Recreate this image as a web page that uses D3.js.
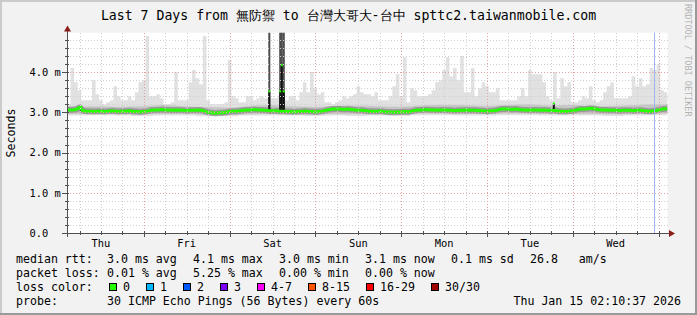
<!DOCTYPE html>
<html>
<head>
<meta charset="utf-8">
<script src="https://cdn.jsdelivr.net/npm/d3@7"></script>
<style>
  body { margin: 0; background: #f2f2f2; }
  text { font-family: "DejaVu Sans Mono", monospace; white-space: pre; }
</style>
</head>
<body>
<svg id="chart" width="697" height="315"></svg>
<script>
// hourly max rtt of the 30 pings (ms), from Thu 02:30 onwards
const smokeMax = [
  3.2, 4.1, 3.75, 3.55, 3.3, 3.3, 3.3, 3.8, 3.45, 3.3, 3.2, 3.25, 3.3, 3.65, 3.4, 3.3, 3.3, 3.4, 3.3, 3.5, 3.75,
  3.8, 4.9, 3.4, 3.4, 3.45, 3.35, 3.2, 3.2, 3.25, 4.0, 3.3, 3.3, 3.3, 3.75, 4.05, 3.85, 3.7, 4.9, 3.3, 3.2, 3.2,
  3.2, 3.2, 3.25, 4.3, 3.4, 3.35, 3.25, 3.25, 3.4, 3.4, 3.3, 3.35, 3.4, 3.35, 3.35, 3.35, 3.35, 3.4, 3.4, 3.3, 3.4,
  3.4, 3.3, 3.5, 3.75, 3.5, 4.0, 3.6, 3.45, 3.5, 3.25, 3.25, 3.2, 3.25, 3.3, 3.4, 3.35, 3.4, 3.45, 3.65, 3.5, 3.45,
  3.45, 3.4, 3.5, 3.3, 3.3, 3.3, 3.4, 3.65, 3.95, 3.4, 4.37, 3.25, 3.6, 3.55, 3.4, 3.4, 3.4, 3.45, 3.55, 3.75, 3.8,
  4.05, 4.37, 3.9, 4.1, 3.8, 4.4, 3.5, 3.5, 4.1, 3.4, 3.6, 3.75, 3.65, 3.5, 3.5, 3.6, 3.3, 3.3, 3.3, 3.3, 3.3,
  3.4, 3.6, 3.4, 4.05, 3.95, 3.95, 3.95, 3.75, 3.4, 3.3, 4.0, 3.35, 3.85, 3.65, 3.75, 3.25, 3.25, 3.3, 3.4, 3.35, 3.65,
  3.3, 3.25, 3.3, 3.5, 3.65, 3.75, 3.35, 3.35, 3.35, 3.35, 3.4, 3.9, 3.65, 3.85, 3.65, 3.7, 4.1, 4.05, 4.2, 3.55, 3.5
];

// hourly median rtt (ms)
const medianRtt = [
  3.06, 3.06, 3.07, 3.12, 3.04, 3.03, 3.03, 3.02, 3.03, 3.03, 3.02, 3.03, 3.04, 3.03, 3.02, 3.03, 3.03, 3.04, 3.02, 3.02, 3.01,
  3.02, 3.03, 3.05, 3.06, 3.06, 3.07, 3.06, 3.06, 3.05, 3.06, 3.05, 3.05, 3.04, 3.05, 3.05, 3.06, 3.05, 3.03, 3.00, 2.99, 2.98,
  2.99, 2.99, 3.00, 3.02, 3.03, 3.03, 3.04, 3.05, 3.06, 3.06, 3.07, 3.06, 3.06, 3.05, 3.04, 3.04, 3.04, 3.03, 3.03, 3.02, 3.02,
  3.01, 3.02, 3.02, 3.03, 3.02, 3.02, 3.01, 3.02, 3.03, 3.05, 3.07, 3.08, 3.08, 3.08, 3.07, 3.08, 3.07, 3.06, 3.05, 3.05, 3.04,
  3.03, 3.03, 3.02, 3.03, 3.02, 3.01, 3.01, 3.00, 3.01, 3.01, 3.02, 3.01, 3.03, 3.05, 3.06, 3.06, 3.07, 3.06, 3.06, 3.05, 3.06,
  3.06, 3.05, 3.05, 3.04, 3.05, 3.05, 3.06, 3.05, 3.05, 3.05, 3.04, 3.04, 3.03, 3.04, 3.04, 3.06, 3.08, 3.08, 3.08, 3.07, 3.08,
  3.07, 3.06, 3.06, 3.05, 3.06, 3.06, 3.05, 3.06, 3.05, 3.04, 3.05, 3.03, 3.03, 3.02, 3.03, 3.04, 3.06, 3.08, 3.08, 3.09, 3.10,
  3.09, 3.07, 3.06, 3.06, 3.05, 3.05, 3.05, 3.04, 3.05, 3.05, 3.05, 3.04, 3.05, 3.05, 3.04, 3.03, 3.03, 3.04, 3.06, 3.08, 3.09
];

// 6-hourly smoke band (ms): dense part and lowest pings
const bandHigh = [3.16, 3.15, 3.14, 3.15, 3.18, 3.15, 3.13, 3.12, 3.16, 3.18, 3.15, 3.14, 3.16, 3.17,
                  3.15, 3.14, 3.17, 3.19, 3.18, 3.16, 3.18, 3.20, 3.17, 3.18, 3.15, 3.16, 3.18, 3.20];
const bandLow  = [2.96, 2.97, 2.96, 2.95, 2.96, 2.97, 2.94, 2.93, 2.95, 2.96, 2.96, 2.95, 2.96, 2.95,
                  2.96, 2.95, 2.97, 2.97, 2.96, 2.96, 2.97, 2.97, 2.96, 2.96, 2.96, 2.95, 2.96, 2.97];
const smokeMin = [2.92, 2.93, 2.92, 2.91, 2.92, 2.92, 2.90, 2.90, 2.92, 2.92, 2.92, 2.91, 2.92, 2.91,
                  2.92, 2.91, 2.93, 2.93, 2.92, 2.92, 2.93, 2.93, 2.92, 2.92, 2.92, 2.91, 2.92, 2.93];

// short bursts (hour offset, median ms, top of smoke ms)
const bursts = [
  { hour: 56.6, rtt: 3.52, top: 5.5 },
  { hour: 59.65, rtt: 3.52, top: 5.5 },
  { hour: 60.1, rtt: 4.17, top: 5.5 },
  { hour: 60.65, rtt: 3.52, top: 5.5 },
  { hour: 3.95, rtt: 3.14, top: null },
  { hour: 136.2, rtt: 3.22, top: null }
];
const restartHour = 164.2;

const yTicks = [0, 1, 2, 3, 4];
const lossLabels = ["0", "1", "2", "3", "4-7", "8-15", "16-29", "30/30"];
const lossColors = ["#26ff00", "#00b8ff", "#0059ff", "#7e00ff", "#ff00ff", "#ff5500", "#ff0000", "#a10000"];
const rttLegend = ["3.0 ms avg", "4.1 ms max", "3.0 ms min", "3.1 ms now", "0.1 ms sd", "26.8   am/s"];
const lossLegend = ["0.01 % avg", "5.25 % max", "0.00 % min", "0.00 % now"];

const HOUR = 3600e3;
const start = Date.UTC(2026, 0, 8, 2, 30);
const end = Date.UTC(2026, 0, 15, 2, 30);
const W = 697, H = 315;
const plotLeft = 67, plotRight = 667.5, plotTop = 32.7, plotBottom = 233;

const x = d3.scaleUtc().domain([start, end]).range([plotLeft, plotRight]);
const y = d3.scaleLinear().domain([0, 4.98]).range([plotBottom, plotTop]);
const hx = h => x(start + h * HOUR);

const svg = d3.select("#chart");

// frame
svg.append("rect").attr("width", W).attr("height", H).attr("fill", "#f2f2f2");
svg.append("rect").attr("width", W).attr("height", 2).attr("fill", "#cbcbcb");
svg.append("rect").attr("width", 2).attr("height", H).attr("fill", "#cbcbcb");
svg.append("rect").attr("y", H - 2).attr("width", W).attr("height", 2).attr("fill", "#999");
svg.append("rect").attr("x", W - 2).attr("width", 2).attr("height", H).attr("fill", "#999");

svg.append("rect")
  .attr("x", plotLeft).attr("y", plotTop)
  .attr("width", plotRight - plotLeft).attr("height", plotBottom - plotTop)
  .attr("fill", "#fff");

svg.append("clipPath").attr("id", "plot")
  .append("rect").attr("x", plotLeft).attr("y", plotTop)
  .attr("width", plotRight - plotLeft).attr("height", plotBottom - plotTop);

const g = svg.append("g").attr("clip-path", "url(#plot)");

// light smoke
const hourly = smokeMax.map((v, i) => ({ h: i, hi: v, lo: smokeMin[Math.floor(i / 6)] }));
hourly.push({ h: smokeMax.length, hi: smokeMax[smokeMax.length - 1], lo: smokeMin[smokeMin.length - 1] });

g.append("path")
  .datum(hourly)
  .attr("fill", "#e1e1e1")
  .attr("d", d3.area().curve(d3.curveStepAfter)
    .x(d => hx(d.h)).y0(d => y(d.lo)).y1(d => y(d.hi)));

// denser smoke
const band = bandHigh.map((v, i) => ({ h: i * 6 + 3, hi: v, lo: bandLow[i] }));
band.unshift({ h: 0, hi: bandHigh[0], lo: bandLow[0] });
band.push({ h: 168, hi: bandHigh[bandHigh.length - 1], lo: bandLow[bandLow.length - 1] });

g.append("path")
  .datum(band)
  .attr("fill", "#c6c6c6")
  .attr("d", d3.area().curve(d3.curveMonotoneX)
    .x(d => hx(d.h)).y0(d => y(d.lo)).y1(d => y(d.hi)));

// grid
const gridG = svg.append("g").attr("shape-rendering", "crispEdges");
d3.range(0.2, 4.98, 0.2).forEach(v => {
  const major = Math.abs(v - Math.round(v)) < 1e-6;
  gridG.append("line")
    .attr("x1", plotLeft).attr("x2", plotRight)
    .attr("y1", Math.round(y(v)) + 0.5).attr("y2", Math.round(y(v)) + 0.5)
    .attr("stroke", major ? "#e3a1a1" : "#cfcfcf")
    .attr("stroke-dasharray", "1,2");
});
d3.utcHour.every(6).range(start, end).forEach(t => {
  const major = t.getUTCHours() === 0;
  const px = Math.round(x(t)) + 0.5;
  if (px <= plotLeft + 1) return;
  gridG.append("line")
    .attr("x1", px).attr("x2", px)
    .attr("y1", plotTop).attr("y2", plotBottom)
    .attr("stroke", major ? "#e3a1a1" : "#cfcfcf")
    .attr("stroke-dasharray", "1,2");
});

// restart marker
svg.append("line")
  .attr("x1", Math.round(hx(restartHour)) + 0.5).attr("x2", Math.round(hx(restartHour)) + 0.5)
  .attr("y1", plotTop).attr("y2", plotBottom)
  .attr("stroke", "#9db5ef").attr("stroke-width", 1);

// median line
const medPts = medianRtt.map((v, i) => ({ h: i + 0.5, v }));
medPts.unshift({ h: 0, v: medianRtt[0] });
medPts.push({ h: 168, v: medianRtt[medianRtt.length - 1] });
const medLine = d3.line().curve(d3.curveLinear).x(d => hx(d.h)).y(d => y(d.v));

g.append("path").datum(medPts)
  .attr("fill", "none").attr("stroke", "#8a8a8a").attr("stroke-opacity", 0.75)
  .attr("stroke-width", 6).attr("d", medLine);

// bursts
bursts.forEach(b => {
  const bx = hx(b.hour);
  if (b.top !== null) {
    g.append("rect").attr("x", bx - 1).attr("y", y(b.top))
      .attr("width", 2).attr("height", y(3.0) - y(b.top)).attr("fill", "#4d4d4d");
  }
  g.append("rect").attr("x", bx - 1).attr("y", y(b.rtt))
    .attr("width", 2).attr("height", y(3.03) - y(b.rtt)).attr("fill", "#111");
});

g.append("path").datum(medPts)
  .attr("fill", "none").attr("stroke", lossColors[0])
  .attr("stroke-width", 3).attr("d", medLine);

bursts.forEach(b => {
  g.append("rect").attr("x", hx(b.hour) - 1).attr("y", y(b.rtt) - 1)
    .attr("width", 2).attr("height", 2).attr("fill", lossColors[0]);
});

// axes
const axisG = svg.append("g").attr("shape-rendering", "crispEdges");
d3.range(0, 4.98, 0.2).forEach(v => {
  const major = Math.abs(v - Math.round(v)) < 1e-6;
  const py = Math.round(y(v)) + 0.5;
  axisG.append("line").attr("x1", major ? 62 : 65).attr("x2", 69)
    .attr("y1", py).attr("y2", py).attr("stroke", "#505050");
});
d3.utcHour.every(6).range(start, end).forEach(t => {
  const major = t.getUTCHours() === 0;
  const px = Math.round(x(t)) + 0.5;
  axisG.append("line").attr("x1", px).attr("x2", px)
    .attr("y1", 231).attr("y2", major ? 237 : 235).attr("stroke", "#505050");
});
axisG.append("line").attr("x1", plotLeft + 0.5).attr("x2", plotLeft + 0.5)
  .attr("y1", 237).attr("y2", 29).attr("stroke", "#505050");
axisG.append("line").attr("x1", 62).attr("x2", 671)
  .attr("y1", plotBottom + 0.5).attr("y2", plotBottom + 0.5).attr("stroke", "#505050");
svg.append("path").attr("d", "M64,31.5L71,31.5L67.5,25.5Z").attr("fill", "#8a1c1c");
svg.append("path").attr("d", "M669,230L669,237L675,233.5Z").attr("fill", "#8a1c1c");

// axis labels
svg.selectAll(".ylab").data(yTicks).enter().append("text")
  .attr("x", 29.5).attr("y", d => y(d) + 3.8)
  .attr("font-size", "10.4px").attr("fill", "#000")
  .text(d => d === 0 ? "0.0" : d.toFixed(1) + " m");

const noons = d3.utcDay.range(start - 24 * HOUR, end)
  .map(d => new Date(+d + 12 * HOUR))
  .filter(d => d > start && d < end);
svg.selectAll(".xlab").data(noons).enter().append("text")
  .attr("x", d => x(d)).attr("y", 246.5)
  .attr("text-anchor", "middle")
  .attr("font-size", "10.4px").attr("fill", "#000")
  .text(d3.utcFormat("%a"));

svg.append("text")
  .attr("transform", "translate(14.5,133) rotate(-90)")
  .attr("text-anchor", "middle")
  .attr("font-size", "11.6px")
  .text("Seconds");

// title
svg.append("text")
  .attr("x", 348.5).attr("y", 19.5)
  .attr("text-anchor", "middle")
  .attr("font-size", "13.2px")
  .text("Last 7 Days from 無防禦 to 台灣大哥大-台中 spttc2.taiwanmobile.com");

// watermark
svg.append("text")
  .attr("transform", "translate(685,4) rotate(90)")
  .attr("font-size", "8.5px").attr("fill", "#b4b4b4")
  .text("RRDTOOL / TOBI OETIKER");

// legend
const cw = 7.0, gap = 16, fs = "11.6px";
const legendRow = (label, items, yy) => {
  svg.append("text").attr("x", 16).attr("y", yy).attr("font-size", fs).text(label);
  let lx = 107;
  items.forEach(s => {
    svg.append("text").attr("x", lx).attr("y", yy).attr("font-size", fs).text(s);
    lx += s.length * cw + gap;
  });
};
legendRow("median rtt:", rttLegend, 263);
legendRow("packet loss:", lossLegend, 277);

svg.append("text").attr("x", 16).attr("y", 291).attr("font-size", fs).text("loss color:");
let bx = 109;
lossLabels.forEach((lab, i) => {
  svg.append("rect").attr("x", bx + 0.5).attr("y", 283.5)
    .attr("width", 7).attr("height", 7)
    .attr("fill", lossColors[i]).attr("stroke", "#000").attr("stroke-width", 1);
  svg.append("text").attr("x", bx + 14).attr("y", 291).attr("font-size", fs).text(lab);
  bx += 14 + lab.length * cw + gap;
});

svg.append("text").attr("x", 16).attr("y", 305).attr("font-size", fs).text("probe:");
svg.append("text").attr("x", 107).attr("y", 305).attr("font-size", fs)
  .text("30 ICMP Echo Pings (56 Bytes) every 60s");
svg.append("text").attr("x", 681).attr("y", 305).attr("font-size", fs)
  .attr("text-anchor", "end")
  .text("Thu Jan 15 02:10:37 2026");
</script>
</body>
</html>
